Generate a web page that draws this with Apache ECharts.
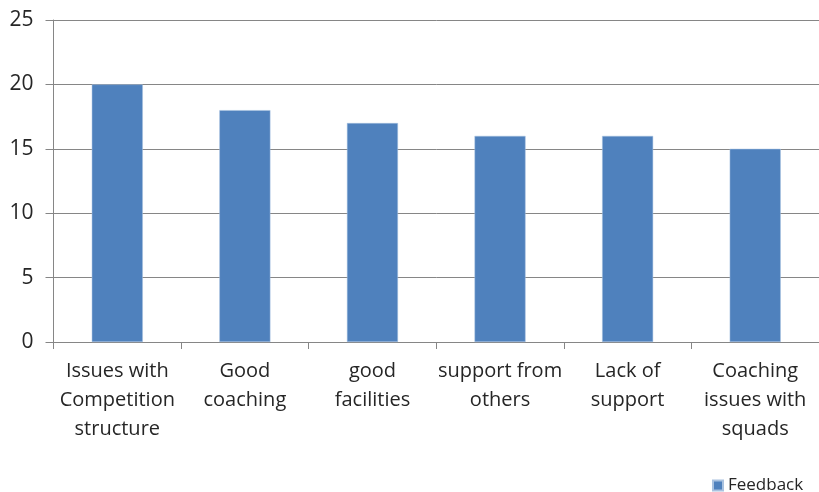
<!DOCTYPE html>
<html><head><meta charset="utf-8">
<script src="https://cdn.jsdelivr.net/npm/echarts@6/dist/echarts.min.js"></script>
<style>html,body{margin:0;padding:0;background:#fff}#c{width:819px;height:492px}</style>
</head><body><div id="c"></div>
<script>
var categories = ["Issues with\nCompetition\nstructure", "Good\ncoaching", "good\nfacilities", "support from\nothers", "Lack of\nsupport", "Coaching\nissues with\nsquads"];
var feedback = [20, 18, 17, 16, 16, 15];
var seriesName = "Feedback";
var chart = echarts.init(document.getElementById('c'), null, {renderer: 'canvas'});
var font = '"Open Sans", sans-serif';
chart.setOption({
  animation: false,
  textStyle: {fontFamily: font},
  grid: {left: 53.5, top: 20, width: 768, height: 322, containLabel: false},
  legend: {
    data: [seriesName], left: 707, top: 472, itemWidth: 10, itemHeight: 10, itemGap: 5,
    textStyle: {fontFamily: font, fontSize: 17, color: '#262626'}, icon: 'rect'
  },
  xAxis: {
    type: 'category', data: categories,
    axisLine: {lineStyle: {color: '#868686', width: 1}},
    axisTick: {show: true, length: 7, lineStyle: {color: '#868686'}},
    axisLabel: {fontFamily: font, fontSize: 20, color: '#262626', lineHeight: 29, margin: 15, interval: 0}
  },
  yAxis: {
    type: 'value', min: 0, max: 25, interval: 5,
    axisLine: {show: true, lineStyle: {color: '#868686'}},
    axisTick: {show: true, length: 8, lineStyle: {color: '#868686'}},
    splitLine: {lineStyle: {color: '#868686', width: 1}},
    axisLabel: {fontFamily: font, fontSize: 21, color: '#262626', margin: 20}
  },
  series: [{
    name: seriesName, type: 'bar', data: feedback, barWidth: '40%',
    itemStyle: {color: '#4f81bd', borderColor: '#a9c2e0', borderWidth: 0.5}
  }]
});
</script></body></html>
